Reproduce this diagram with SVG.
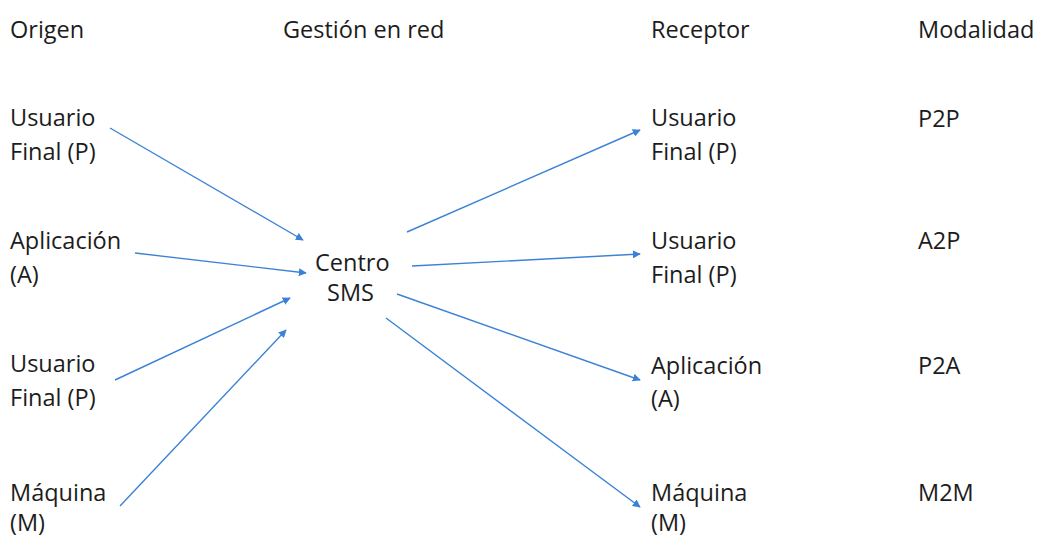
<svg xmlns="http://www.w3.org/2000/svg" width="1038" height="536" viewBox="0 0 1038 536">
<style>
text{font-family:"Open Sans","Liberation Sans",sans-serif;font-size:23.5px;font-weight:500;fill:#1c1c1c}
.c{stroke:#3b82d6;stroke-width:1.4;fill:none;marker-end:url(#ah)}
</style>
<defs>
<marker id="ah" viewBox="0 0 10 10" refX="9" refY="5" markerWidth="8" markerHeight="8" markerUnits="userSpaceOnUse" orient="auto">
<path d="M0,0 L10,5 L0,10 z" fill="#3b82d6"/>
</marker>
</defs>
<rect width="1038" height="536" fill="#ffffff"/>
<g id="headers">
<text x="10" y="38">Origen</text>
<text x="283" y="38">Gestión en red</text>
<text x="651" y="38">Receptor</text>
<text x="918" y="38">Modalidad</text>
</g>
<g id="src1"><text x="10" y="126">Usuario</text><text x="10" y="160">Final (P)</text></g>
<g id="src2"><text x="10" y="249">Aplicación</text><text x="10" y="283">(A)</text></g>
<g id="src3"><text x="10" y="372">Usuario</text><text x="10" y="406">Final (P)</text></g>
<g id="src4"><text x="10" y="501">Máquina</text><text x="10" y="531">(M)</text></g>
<g id="centro"><text x="315" y="271">Centro</text><text x="327" y="301">SMS</text></g>
<g id="dst1"><text x="651" y="126">Usuario</text><text x="651" y="160">Final (P)</text></g>
<g id="dst2"><text x="651" y="249">Usuario</text><text x="651" y="283">Final (P)</text></g>
<g id="dst3"><text x="651" y="374">Aplicación</text><text x="651" y="407">(A)</text></g>
<g id="dst4"><text x="651" y="501">Máquina</text><text x="651" y="531">(M)</text></g>
<g id="mod">
<text x="918" y="127">P2P</text>
<text x="918" y="249">A2P</text>
<text x="918" y="374">P2A</text>
<text x="918" y="501">M2M</text>
</g>
<g id="connectors">
<line class="c" x1="110" y1="128" x2="303" y2="240"/>
<line class="c" x1="135" y1="253" x2="306" y2="273"/>
<line class="c" x1="115" y1="380" x2="290" y2="298"/>
<line class="c" x1="120" y1="506" x2="286" y2="330"/>
<line class="c" x1="407" y1="232" x2="640" y2="130"/>
<line class="c" x1="412" y1="266" x2="640" y2="254"/>
<line class="c" x1="397" y1="294" x2="640" y2="380"/>
<line class="c" x1="386" y1="318" x2="640" y2="507"/>
</g>
</svg>
